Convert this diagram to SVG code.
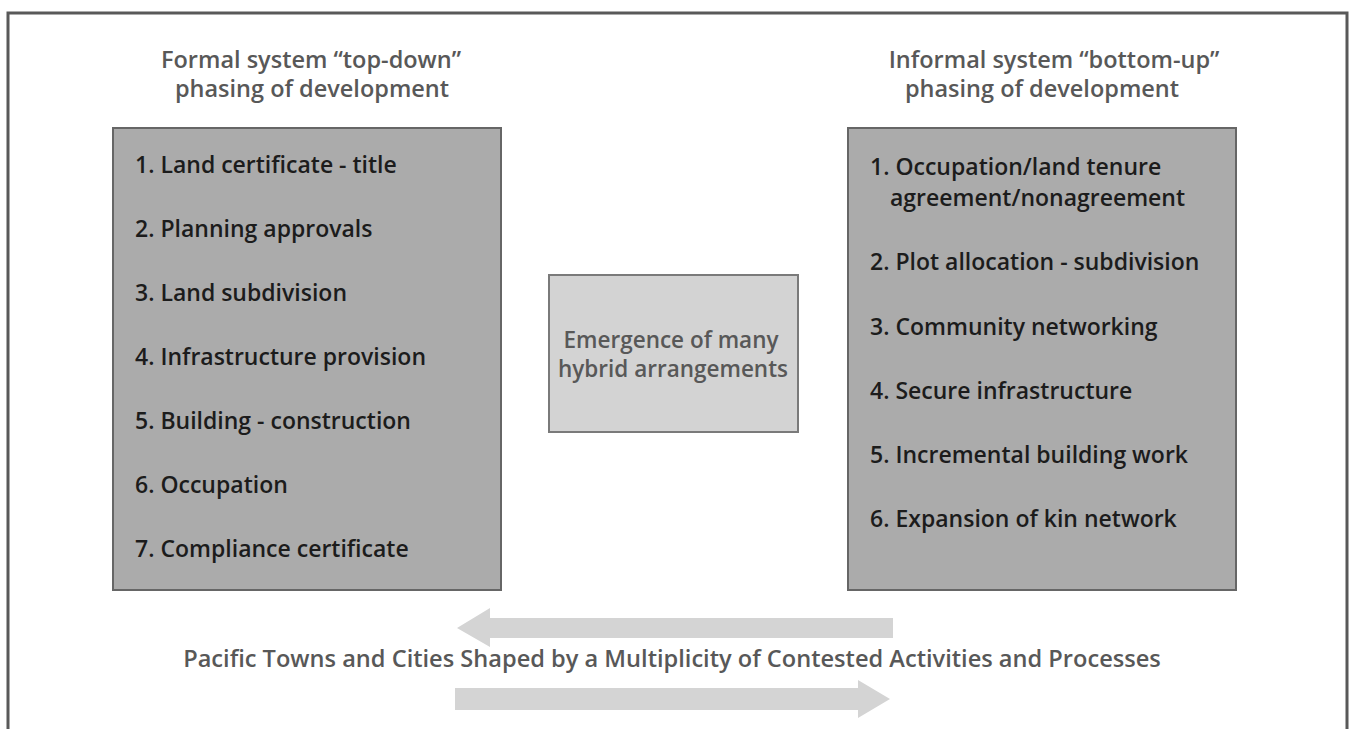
<svg xmlns="http://www.w3.org/2000/svg" width="1350" height="729" viewBox="0 0 1350 729">
  <style>
    .frame { fill: none; stroke: #595959; stroke-width: 3; }
    .box { fill: #ababab; stroke: #666666; stroke-width: 2; }
    .mid { fill: #d3d3d3; stroke: #7a7a7a; stroke-width: 2; }
    .item { font-family: "Open Sans", Lato, "Liberation Sans", sans-serif; font-size: 23px; font-weight: 600; fill: #1c1c1c; }
    .head { font-family: "Open Sans", Lato, "Liberation Sans", sans-serif; font-size: 23.5px; font-weight: 600; fill: #585858; text-anchor: middle; }
    .midtxt { font-family: "Open Sans", Lato, "Liberation Sans", sans-serif; font-size: 22.5px; font-weight: 600; fill: #585858; text-anchor: middle; }
    .foot { font-family: "Open Sans", Lato, "Liberation Sans", sans-serif; font-size: 23.6px; font-weight: 600; fill: #585858; text-anchor: middle; }
    .arrow { fill: #d4d4d4; }
  </style>
  <rect width="1350" height="729" fill="#ffffff"/>
  <path class="frame" d="M8,729 V13 H1347 V729"/>

  <g id="formal-header">
    <text class="head" x="311" y="68">Formal system “top-down”</text>
    <text class="head" x="312" y="97">phasing of development</text>
  </g>

  <g id="informal-header">
    <text class="head" x="1054" y="68">Informal system “bottom-up”</text>
    <text class="head" x="1042" y="97">phasing of development</text>
  </g>

  <g id="formal-box">
    <rect class="box" x="113" y="128" width="388" height="462"/>
    <text class="item" x="135" y="173">1. Land certificate - title</text>
    <text class="item" x="135" y="237">2. Planning approvals</text>
    <text class="item" x="135" y="301">3. Land subdivision</text>
    <text class="item" x="135" y="365">4. Infrastructure provision</text>
    <text class="item" x="135" y="429">5. Building - construction</text>
    <text class="item" x="135" y="493">6. Occupation</text>
    <text class="item" x="135" y="557">7. Compliance certificate</text>
  </g>

  <g id="informal-box">
    <rect class="box" x="848" y="128" width="388" height="462"/>
    <text class="item" x="870" y="175">1. Occupation/land tenure</text>
    <text class="item" x="890" y="206">agreement/nonagreement</text>
    <text class="item" x="870" y="270">2. Plot allocation - subdivision</text>
    <text class="item" x="870" y="335">3. Community networking</text>
    <text class="item" x="870" y="399">4. Secure infrastructure</text>
    <text class="item" x="870" y="463">5. Incremental building work</text>
    <text class="item" x="870" y="527">6. Expansion of kin network</text>
  </g>

  <g id="hybrid-box">
    <rect class="mid" x="549" y="275" width="249" height="157"/>
    <text class="midtxt" x="671" y="348">Emergence of many</text>
    <text class="midtxt" x="673" y="377">hybrid arrangements</text>
  </g>

  <g id="connectors">
    <polygon class="arrow" points="893,618 490,618 490,608 457,628 490,647 490,638 893,638"/>
    <polygon class="arrow" points="455,688 858,688 858,680 890,699 858,718 858,710 455,710"/>
  </g>

  <g id="footer">
    <text class="foot" x="672" y="667">Pacific Towns and Cities Shaped by a Multiplicity of Contested Activities and Processes</text>
  </g>
</svg>
